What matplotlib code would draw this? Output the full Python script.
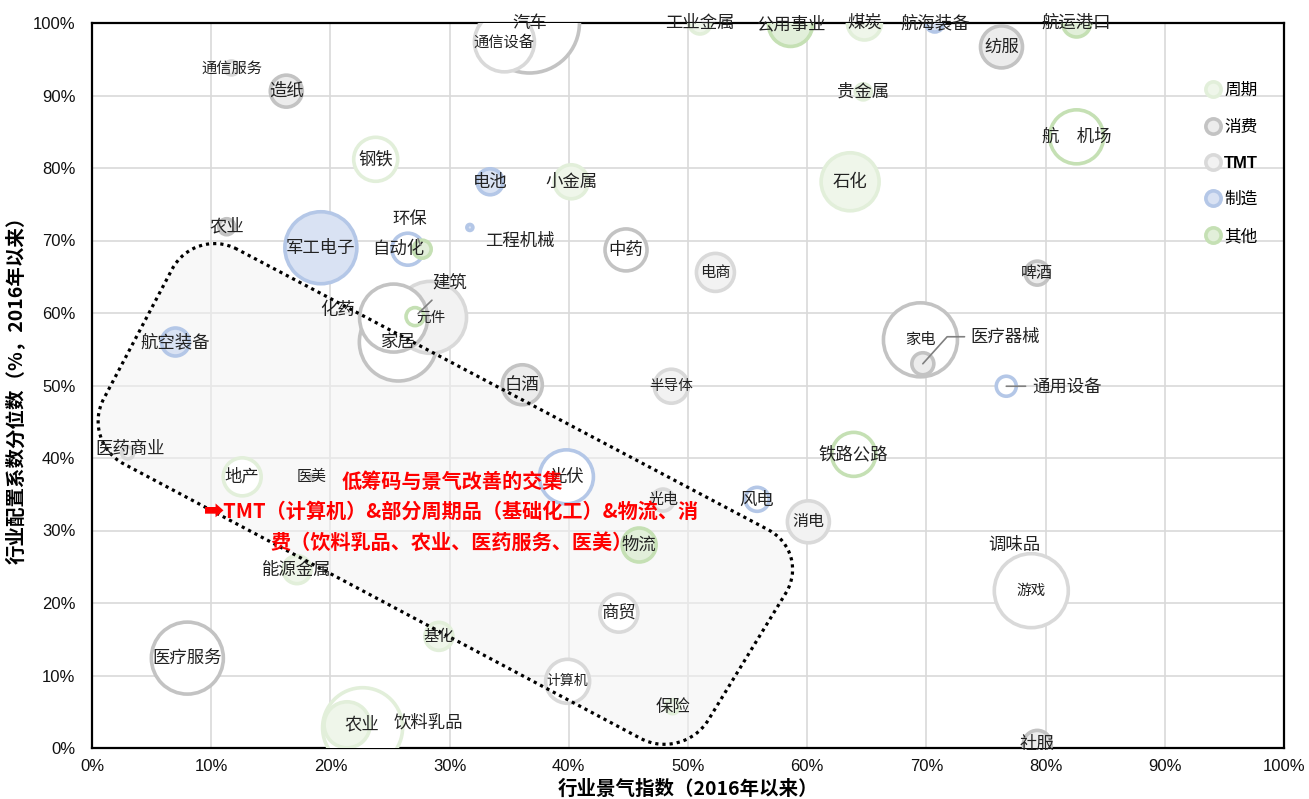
import numpy as np
import matplotlib
matplotlib.use("Agg")
import matplotlib.pyplot as plt
from matplotlib.path import Path
from matplotlib.patches import PathPatch
from matplotlib.lines import Line2D

plt.rcParams['font.family'] = ['Noto Sans CJK SC', 'DejaVu Sans']
plt.rcParams['axes.unicode_minus'] = False

# ---------------- data ----------------
names = ["通信服务", "造纸", "钢铁", "电池", "农业", "军工电子", "自动化", "环保", "工程机械",
         "小金属", "汽车", "通信设备", "工业金属", "公用事业", "煤炭", "航海装备", "纺服",
         "航运港口", "贵金属", "航　机场", "石化", "中药", "电商", "啤酒", "化药", "家居",
         "元件", "建筑", "航空装备", "白酒", "半导体", "家电", "医疗器械", "通用设备",
         "医药商业", "地产", "医美", "光伏", "光电", "风电", "铁路公路", "消电", "物流",
         "能源金属", "商贸", "基化", "医疗服务", "计算机", "保险", "饮料乳品", "农业",
         "调味品", "游戏", "社服"]
prosperity = [11.7, 16.3, 23.8, 33.4, 11.3, 19.2, 26.5, 27.7, 31.7,
              40.2, 36.7, 34.6, 51.0, 58.6, 64.8, 70.7, 76.3,
              82.6, 64.7, 82.6, 63.6, 44.8, 52.3, 79.3, 25.3, 25.7,
              28.4, 27.1, 7.0, 36.1, 48.6, 69.5, 69.7, 76.7,
              3.0, 12.6, 18.4, 39.8, 47.9, 55.8, 63.9, 60.1, 45.9,
              17.2, 44.2, 29.1, 8.0, 39.9, 48.7, 22.7, 21.4,
              77.4, 78.8, 79.3]
allocation = [93.8, 90.6, 81.2, 78.1, 71.9, 69.0, 68.8, 68.8, 71.8,
              78.1, 100.0, 97.4, 100.0, 99.8, 100.0, 100.0, 96.7,
              100.0, 90.5, 84.3, 78.1, 68.7, 65.6, 65.5, 59.3, 56.0,
              59.4, 59.5, 56.0, 50.1, 49.9, 56.3, 53.0, 49.9,
              40.7, 37.4, 37.4, 37.4, 34.2, 34.3, 40.5, 31.2, 28.0,
              24.6, 18.6, 15.4, 12.4, 9.2, 5.7, 2.8, 3.2,
              28.0, 21.7, 0.5]
bubble_size = [7, 16, 22, 13, 8, 36, 16, 9, 3,
               17, 50, 30, 11, 22, 17, 9, 21,
               14, 8, 27, 29, 21, 19, 12, 34, 39,
               36, 9, 14, 20, 17, 37, 11, 10,
               6, 19, 2, 27, 11, 12, 22, 21, 17,
               14, 19, 14, 36, 22, 7, 40, 23,
               1, 37, 14]
groups = ["TMT", "消费", "周期", "制造", "消费", "制造", "制造", "其他", "制造",
          "周期", "消费", "TMT", "周期", "其他", "周期", "制造", "消费",
          "其他", "周期", "其他", "周期", "消费", "TMT", "消费", "消费", "消费",
          "TMT", "其他", "制造", "消费", "TMT", "消费", "消费", "制造",
          "TMT", "周期", "消费", "制造", "TMT", "制造", "其他", "TMT", "其他",
          "周期", "TMT", "周期", "消费", "TMT", "周期", "周期", "周期",
          "TMT", "TMT", "消费"]
legend_order = ["周期", "消费", "TMT", "制造", "其他"]

# highlighted zone corners (x: prosperity %, y: allocation %)
focus_zone = [(8.6, 71.9), (-0.9, 42.3), (49.6, -1.8), (60.3, 27.0)]

note_lines = ["低筹码与景气改善的交集",
              "\u27a1TMT（计算机）&部分周期品（基础化工）&物流、消",
              "费（饮料乳品、农业、医药服务、医美）"]

# ---------------- styles ----------------
palette = {
    "周期": ("#e2efda", "#eff6ea"),
    "消费": ("#c3c3c3", "#ececec"),
    "TMT": ("#d9d9d9", "#f2f2f2"),
    "制造": ("#b4c7e7", "#d9e2f3"),
    "其他": ("#c5e0b4", "#e2efda"),
}
hollow = {"自动化", "通用设备", "建筑", "航　机场", "光伏", "风电", "铁路公路", "家电",
          "医疗服务", "游戏", "中药", "钢铁", "地产", "商贸", "计算机", "化药", "家居",
          "汽车", "通信设备", "饮料乳品"}
small_font = {"通信服务": 11, "通信设备": 11, "电商": 11, "元件": 10.5, "半导体": 10.5,
              "光电": 10.8, "医美": 10.8, "计算机": 10, "游戏": 10.5, "家电": 11,
              "基化": 11, "啤酒": 11.5, "消电": 11.5}
# label offsets in pixels (dx right, dy up)
offsets = {"自动化": (-10, 0), "环保": (-12, 30), "工程机械": (50, -14), "化药": (-56, 8),
           "建筑": (35, 34), "医疗器械": (82, 27), "通用设备": (61, 0),
           "饮料乳品": (66, 5), "医药商业": (2, 4)}
lower_farm_offset = (15, 0)
leaders = {"环保", "建筑", "医疗器械", "通用设备"}

W, H, DPI = 1309, 799, 100
fig = plt.figure(figsize=(W / DPI, H / DPI), dpi=DPI)
ax_l, ax_r, ax_t, ax_b = 92, 1284, 23, 748
ax = fig.add_axes([ax_l / W, 1 - ax_b / H, (ax_r - ax_l) / W, (ax_b - ax_t) / H])
ax.set_xlim(0, 100)
ax.set_ylim(0, 100)
px_x = (ax_r - ax_l) / 100.0
px_y = (ax_b - ax_t) / 100.0

ax.set_xticks(np.arange(0, 101, 10))
ax.set_yticks(np.arange(0, 101, 10))
ax.set_xticklabels([f"{v}%" for v in range(0, 101, 10)])
ax.set_yticklabels([f"{v}%" for v in range(0, 101, 10)])
for lab in ax.get_xticklabels() + ax.get_yticklabels():
    lab.set_fontfamily("Liberation Sans")
    lab.set_fontsize(12)
    lab.set_color("#111111")
ax.tick_params(axis="x", length=0, pad=8)
ax.tick_params(axis="y", length=0, pad=12)
ax.grid(True, color="#d9d9d9", lw=1.2)
ax.set_axisbelow(True)
for sp in ax.spines.values():
    sp.set_color("black")
    sp.set_linewidth(1.6)

ax.set_xlabel("行业景气指数（2016年以来）", fontsize=14, fontweight="bold", labelpad=4)
ax.set_ylabel("行业配置系数分位数（%，2016年以来）", fontsize=14, fontweight="bold", labelpad=4)

# highlighted zone with rounded corners, built in pixel space
def rounded_path(pts, r):
    pts = [np.array([x * px_x, y * px_y]) for x, y in pts]
    n = len(pts)
    k = 0.5523
    verts, codes = [], []
    for i in range(n):
        p0, p1, p2 = pts[i - 1], pts[i], pts[(i + 1) % n]
        d1 = (p0 - p1) / np.linalg.norm(p0 - p1)
        d2 = (p2 - p1) / np.linalg.norm(p2 - p1)
        a = p1 + d1 * r
        b = p1 + d2 * r
        c1 = a + (p1 - a) * k
        c2 = b + (p1 - b) * k
        verts.append(a); codes.append(Path.MOVETO if i == 0 else Path.LINETO)
        verts += [c1, c2, b]; codes += [Path.CURVE4] * 3
    verts.append(verts[0]); codes.append(Path.CLOSEPOLY)
    v = np.array(verts)
    v[:, 0] /= px_x
    v[:, 1] /= px_y
    return Path(v, codes)

zone = rounded_path(focus_zone, 48)
ax.add_patch(PathPatch(zone, facecolor="#f3f3f3", edgecolor="none", alpha=0.55, zorder=1.5))
ax.add_patch(PathPatch(zone, facecolor="none", edgecolor="black", lw=2.3,
                       linestyle=(0, (1, 1.25)), capstyle="butt", zorder=4))

# bubbles, biggest first so small ones stay visible
order = np.argsort(bubble_size)[::-1]
xs = np.array(prosperity)[order]
ys = np.array(allocation)[order]
rs = np.array(bubble_size, dtype=float)[order]
edges = [palette[groups[i]][0] for i in order]
faces = ["white" if names[i] in hollow else palette[groups[i]][1] for i in order]
ax.scatter(xs, ys, s=(2 * rs * 0.72) ** 2, c=faces, edgecolors=edges,
           linewidths=2.6, zorder=3)

# labels
farm_seen = 0
for i, nm in enumerate(names):
    fs = small_font.get(nm, 12.5)
    dx, dy = offsets.get(nm, (0, 0))
    if nm == "农业":
        farm_seen += 1
        if farm_seen == 2:
            dx, dy = lower_farm_offset
    kw = dict(textcoords="offset points", xytext=(dx * 0.72, dy * 0.72),
              ha="center", va="center", fontsize=fs, color="#222222", zorder=5)
    if nm in leaders:
        if nm == "医疗器械":
            arrow = dict(arrowstyle="-", color="#808080", lw=1.2, shrinkA=2, shrinkB=0,
                         relpos=(0, 0.5), connectionstyle="angle,angleA=0,angleB=48,rad=0")
        elif nm == "通用设备":
            arrow = dict(arrowstyle="-", color="#808080", lw=1.2, shrinkA=3, shrinkB=0,
                         relpos=(0, 0.5))
        else:
            arrow = dict(arrowstyle="-", color="#808080", lw=1.2, shrinkA=6, shrinkB=3)
        ax.annotate(nm, (prosperity[i], allocation[i]), arrowprops=arrow, **kw)
    else:
        ax.annotate(nm, (prosperity[i], allocation[i]), **kw)

# conclusion note
ax.text(30.2, 32.6, "\n".join(note_lines), ha="center", va="center", fontsize=14.5,
        fontweight="bold", color="#ff0000", linespacing=1.55, zorder=6,
        family=["Noto Sans CJK SC", "DejaVu Sans"])

# legend
handles = [Line2D([], [], marker="o", linestyle="none", markersize=11,
                  markerfacecolor=palette[g][1], markeredgecolor=palette[g][0],
                  markeredgewidth=2.6) for g in legend_order]
leg = ax.legend(handles, legend_order, loc="upper left", bbox_to_anchor=(0.928, 0.93),
                frameon=False, fontsize=12, handlelength=0.8, handletextpad=0.25,
                labelspacing=1.2, borderpad=0)
for t in leg.get_texts():
    if t.get_text() == "TMT":
        t.set_fontweight("bold")
        t.set_fontfamily("Liberation Sans")

fig.savefig("out.png", dpi=DPI)
